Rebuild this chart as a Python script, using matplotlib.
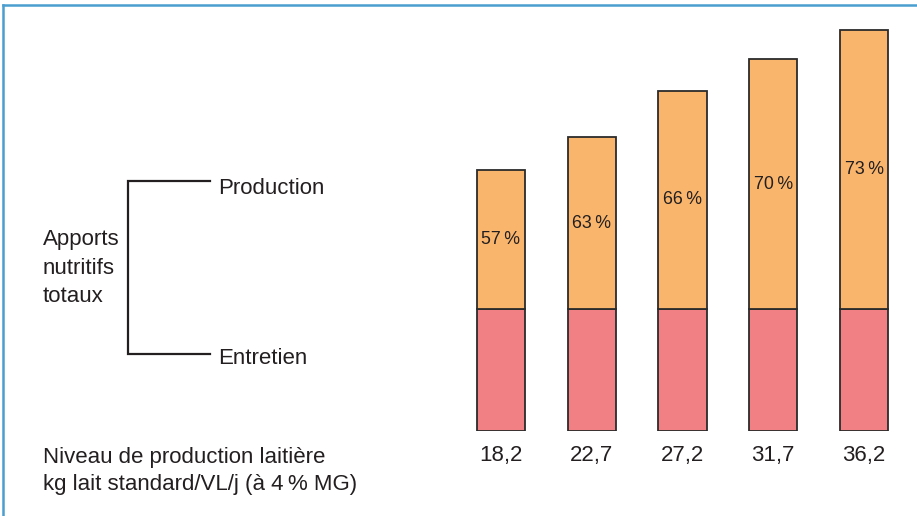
import numpy as np
import matplotlib
matplotlib.use('Agg')
import matplotlib.pyplot as plt
from matplotlib.lines import Line2D

plt.rcParams['font.family'] = ['Liberation Sans', 'DejaVu Sans']

# production levels (kg lait standard/VL/j)
niveaux = ['18,2', '22,7', '27,2', '31,7', '36,2']
# apports (unites arbitraires)
entretien = [6.1, 6.1, 6.1, 6.1, 6.1]
production = [6.95, 8.6, 10.9, 12.5, 13.95]
part_production = ['57\u2009%', '63\u2009%', '66\u2009%', '70\u2009%', '73\u2009%']

txt_col = '#231f20'
col_entretien = '#f08084'
col_production = '#f9b56c'
edge_col = '#2b2b2b'

W, H = 917, 516
fig = plt.figure(figsize=(W / 100, H / 100), dpi=100)

# axes for the bars, placed in pixel coordinates
left, right, top, bottom = 455.6, 909.4, 20, 431
ax = fig.add_axes([left / W, (H - bottom) / H, (right - left) / W, (bottom - top) / H])

x = np.arange(len(niveaux))
ax.bar(x, entretien, width=0.53, color=col_entretien, edgecolor=edge_col, linewidth=1.3)
ax.bar(x, production, width=0.53, bottom=entretien, color=col_production,
       edgecolor=edge_col, linewidth=1.3)

for i in range(len(x)):
    ax.text(x[i], entretien[i] + production[i] / 2, part_production[i],
            ha='center', va='center', fontsize=12.8, color=txt_col)

ax.set_xlim(-0.5, len(niveaux) - 0.5)
ax.set_ylim(0, (bottom - top) / 20)
ax.set_xticks(x)
ax.set_xticklabels(niveaux, fontsize=16, color=txt_col)
ax.tick_params(axis='x', length=0, pad=10)
ax.set_yticks([])
for s in ax.spines.values():
    s.set_visible(False)

# bracket on the left
def px(xp, yp):
    return xp / W, 1 - yp / H

bx0, bx1, by0, by1 = 128, 210, 181, 354
xs = [px(bx1, by0)[0], px(bx0, by0)[0], px(bx0, by1)[0], px(bx1, by1)[0]]
ys = [px(bx1, by0)[1], px(bx0, by0)[1], px(bx0, by1)[1], px(bx1, by1)[1]]
fig.add_artist(Line2D(xs, ys, color=txt_col, linewidth=1.6, solid_joinstyle='miter'))

fig.text(*px(218, 188), 'Production', ha='left', va='center', fontsize=16, color=txt_col)
fig.text(*px(218, 359), 'Entretien', ha='left', va='center', fontsize=16, color=txt_col)
fig.text(*px(43, 268), 'Apports\nnutritifs\ntotaux', ha='left', va='center',
         fontsize=16, color=txt_col, linespacing=1.5)
fig.text(*px(43, 471), 'Niveau de production laitière\nkg lait standard/VL/j (à 4\u2009% MG)',
         ha='left', va='center', fontsize=16, color=txt_col, linespacing=1.42)

# blue frame (top and left)
fig.add_artist(Line2D([px(3, 5)[0], 1], [px(3, 5)[1], px(3, 5)[1]], color='#4a9fd0', linewidth=1.8))
fig.add_artist(Line2D([px(3, 5)[0], px(3, 5)[0]], [px(3, 5)[1], 0], color='#4a9fd0', linewidth=1.8))

fig.savefig('out.png', dpi=100)
